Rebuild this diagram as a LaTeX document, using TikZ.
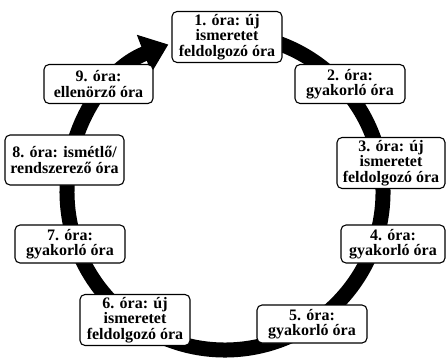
\documentclass[tikz,border=0pt]{standalone}
\usepackage{fontspec}
\setmainfont{Liberation Serif}
\usetikzlibrary{arrows.meta}
\begin{document}
\begin{tikzpicture}[x=1pt,y=1pt,
  lesson/.style={draw=black, line width=1.1pt, rounded corners=5pt, fill=white,
    align=center, inner sep=1pt,
    font=\fontsize{16}{15.5}\selectfont\bfseries},
  twoline/.style={lesson, minimum width=110pt, minimum height=39pt},
  threeline/.style={lesson, minimum width=110pt, minimum height=51pt},
  ring/.style={line width=15pt, -{Triangle[length=26pt,width=39pt]}}]
\useasboundingbox (0,0) rectangle (446,357);
\coordinate (c) at (225,165);
% the cycle of lessons, running clockwise
\draw[ring] ([shift={(95:158)}]c) arc[start angle=95, end angle=-249, radius=158];
% lessons
\node[threeline] (o1) at (227,320) {1. óra: új\\ismeretet\\feldolgozó óra};
\node[twoline] (o2) at (350,273) {2. óra:\\gyakorló óra};
\node[threeline, minimum width=108pt] (o3) at (391,194) {3. óra: új\\ismeretet\\feldolgozó óra};
\node[twoline, minimum width=104pt, minimum height=38pt] (o4) at (393,113) {4. óra:\\gyakorló óra};
\node[twoline, minimum height=38pt] (o5) at (312,33) {5. óra:\\gyakorló óra};
\node[threeline] (o6) at (135,37) {6. óra: új\\ismeretet\\feldolgozó óra};
\node[twoline, minimum height=38pt] (o7) at (70,113) {7. óra:\\gyakorló óra};
\node[twoline, minimum width=119pt, minimum height=50pt] (o8) at (64.5,197) {8. óra: ismétlő/\\rendszerező óra};
\node[twoline, minimum width=109pt] (o9) at (98.5,273) {9. óra:\\ellenörző óra};
\end{tikzpicture}
\end{document}
